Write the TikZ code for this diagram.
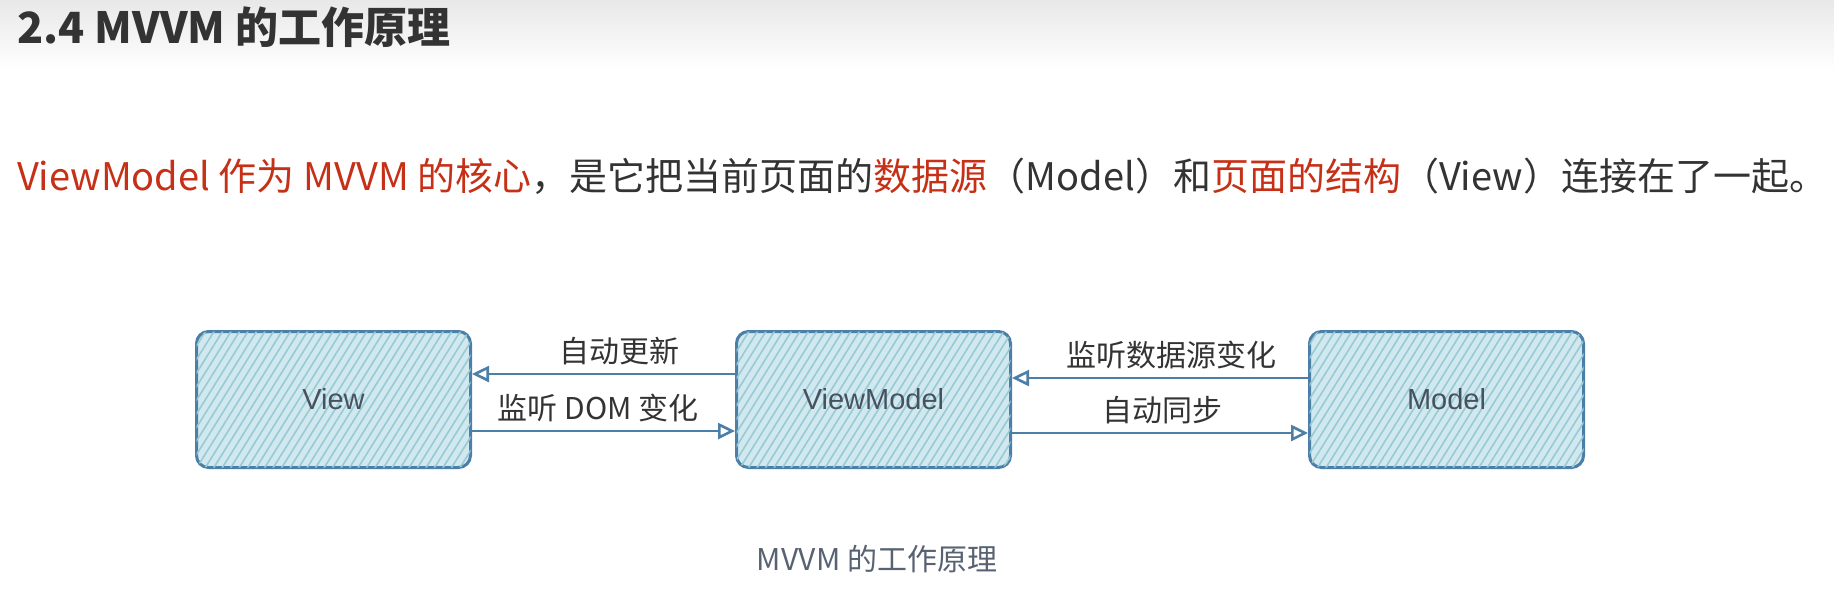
\documentclass[tikz,border=0pt]{standalone}
\usepackage{fontspec}
\setmainfont{Noto Sans CJK SC}
\newfontfamily\boxfont{Liberation Sans}
\usepackage{tikz}
\usetikzlibrary{positioning,arrows.meta,patterns.meta}
\definecolor{boxblue}{RGB}{76,127,168}
\definecolor{boxfill}{RGB}{210,232,239}
\definecolor{hatchblue}{RGB}{150,202,214}
\definecolor{redtext}{RGB}{198,48,22}
\definecolor{darktext}{RGB}{51,51,51}
\definecolor{boxtext}{RGB}{72,82,94}
\definecolor{captext}{RGB}{88,98,114}
\definecolor{bandgray}{RGB}{232,232,232}

\begin{document}
\begin{tikzpicture}[x=0.5pt,y=-0.5pt,>={Triangle[open,length=8.5pt,width=8pt]},
    part/.style={draw=boxblue,line width=1.5pt,rounded corners=6pt,fill=boxfill,
      postaction={pattern={Lines[angle=58,distance=3.6pt,line width=0.8pt]},pattern color=hatchblue},
      minimum width=137pt,minimum height=68pt,text=boxtext,
      font=\boxfont\fontsize{14.5}{16}\selectfont},
    flow/.style={->,draw=boxblue,line width=1.3pt},
    flowtext/.style={above=2pt,inner sep=2pt,text=darktext,font=\fontsize{15}{17}\selectfont}]
        \useasboundingbox (0,0) rectangle (1834,606);
        \shade[top color=bandgray,bottom color=white] (0,0) rectangle (1834,70);
        \node[anchor=west,text=darktext,font=\bfseries\fontsize{21.5}{24}\selectfont] (title) at (10,27) {2.4 MVVM 的工作原理};
        \node[anchor=west,text=darktext,font=\fontsize{19}{22}\selectfont] (intro) at (10,176)
          {\textcolor{redtext}{ViewModel 作为 MVVM 的核心}，是它把当前页面的\textcolor{redtext}{数据源}（Model）和\textcolor{redtext}{页面的结构}（View）连接在了一起。};

        \node[part] (view) at (333.5,399.5) {View};
        \node[part,right=131.5pt of view] (vm) {ViewModel};
        \node[part,right=148pt of vm] (model) {Model};

        \draw[flow] ([yshift=12.75pt]vm.west) -- node[flowtext,pos=0.44] {自动更新} ([yshift=12.75pt]view.east);
        \draw[flow] ([yshift=-15.75pt]view.east) -- node[flowtext,pos=0.48] {监听 DOM 变化} ([yshift=-15.75pt]vm.west);
        \draw[flow] ([yshift=10.75pt]model.west) -- node[flowtext,pos=0.46] {监听数据源变化} ([yshift=10.75pt]vm.east);
        \draw[flow] ([yshift=-16.75pt]vm.east) -- node[flowtext,pos=0.51] {自动同步} ([yshift=-16.75pt]model.west);

        \node[text=captext,font=\fontsize{15}{17}\selectfont] (caption) at (877,559) {MVVM 的工作原理};
\end{tikzpicture}
\end{document}
